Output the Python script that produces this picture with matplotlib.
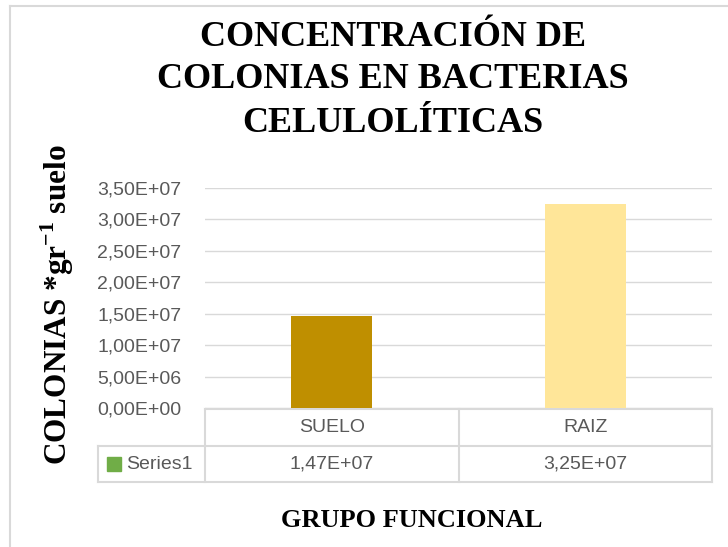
import matplotlib
matplotlib.use("Agg")
import matplotlib.pyplot as plt
from matplotlib.lines import Line2D
from matplotlib.ticker import FuncFormatter
import numpy as np

# datos del grafico
categories = ["SUELO", "RAIZ"]
values = [1.47e7, 3.25e7]
bar_colors = ["#BF8F00", "#FFE699"]
series_name = "Series1"
yticks = [0, 5e6, 1e7, 1.5e7, 2e7, 2.5e7, 3e7, 3.5e7]
title_lines = ["CONCENTRACIÓN DE", "COLONIAS EN BACTERIAS", "CELULOLÍTICAS"]

plt.rcParams["mathtext.fontset"] = "custom"
plt.rcParams["mathtext.bf"] = "Liberation Serif:bold"
plt.rcParams["mathtext.rm"] = "Liberation Serif:bold"

GRAY = "#D9D9D9"
TXT = "#595959"


def sci(v, pos=None):
    # formato tipo Excel con coma decimal
    return f"{v:.2E}".replace(".", ",")


fig = plt.figure(figsize=(7.28, 5.47), dpi=100)
ax = fig.add_axes([205 / 728, 139 / 547, 507 / 728, 220 / 547])

x = np.arange(len(categories))
ax.bar(x, values, width=0.32, color=bar_colors, zorder=3)
ax.set_xlim(-0.5, len(categories) - 0.5)
ax.set_ylim(0, 3.5e7)
ax.set_yticks(yticks)
ax.yaxis.set_major_formatter(FuncFormatter(sci))
ax.tick_params(axis="y", length=0, pad=17, labelsize=14, labelcolor=TXT)
ax.tick_params(axis="x", bottom=False, labelbottom=False)
for lab in ax.get_yticklabels():
    lab.set_fontfamily("Liberation Sans")
ax.grid(axis="y", color=GRAY, linewidth=1, zorder=0)
for s in ax.spines.values():
    s.set_visible(False)

# tabla de datos bajo el eje
n = len(categories)
y0, y1, y2 = -0.0045, -0.1727, -0.3364
xl = -0.211
kw = dict(color=GRAY, linewidth=1.5, transform=ax.transAxes, clip_on=False)
ax.add_line(Line2D([0, 1], [y0, y0], **kw))
ax.add_line(Line2D([xl, 1], [y1, y1], **kw))
ax.add_line(Line2D([xl, 1], [y2, y2], **kw))
ax.add_line(Line2D([xl, xl], [y1, y2], **kw))
for i in range(n + 1):
    ax.add_line(Line2D([i / n, i / n], [y0, y2], **kw))
for i, (c, v) in enumerate(zip(categories, values)):
    ax.text((i + 0.5) / n, (y0 + y1) / 2, c, transform=ax.transAxes,
            ha="center", va="center", fontsize=14, color=TXT,
            family="Liberation Sans")
    ax.text((i + 0.5) / n, (y1 + y2) / 2, sci(v), transform=ax.transAxes,
            ha="center", va="center", fontsize=14, color=TXT,
            family="Liberation Sans")
ax.plot([-0.1795], [(y1 + y2) / 2], marker="s", markersize=10.5,
        color="#70AD47", transform=ax.transAxes, clip_on=False)
ax.text(-0.1558, (y1 + y2) / 2, series_name, transform=ax.transAxes,
        ha="left", va="center", fontsize=14, color=TXT,
        family="Liberation Sans")

# titulo
for line, yb in zip(title_lines, [46, 88, 132]):
    fig.text(393 / 728, (547 - yb) / 547, line, ha="center", va="baseline",
             fontsize=26, fontweight="bold", family="Liberation Serif")

fig.text(412 / 728, 20 / 547, "GRUPO FUNCIONAL", ha="center", va="baseline",
         fontsize=19, fontweight="bold", family="Liberation Serif")
fig.text(67 / 728, (547 - 305) / 547, r"COLONIAS *gr$^{\mathbf{-1}}$ suelo",
         rotation=90, rotation_mode="anchor", ha="center", va="baseline",
         fontsize=22.5, fontweight="bold", family="Liberation Serif")

# marco del grafico
fig.add_artist(Line2D([10 / 728, 1], [541 / 547, 541 / 547], color=GRAY,
                      linewidth=1.5, transform=fig.transFigure))
fig.add_artist(Line2D([10 / 728, 10 / 728], [0, 541 / 547], color=GRAY,
                      linewidth=1.5, transform=fig.transFigure))

fig.savefig("out.png", dpi=100)
